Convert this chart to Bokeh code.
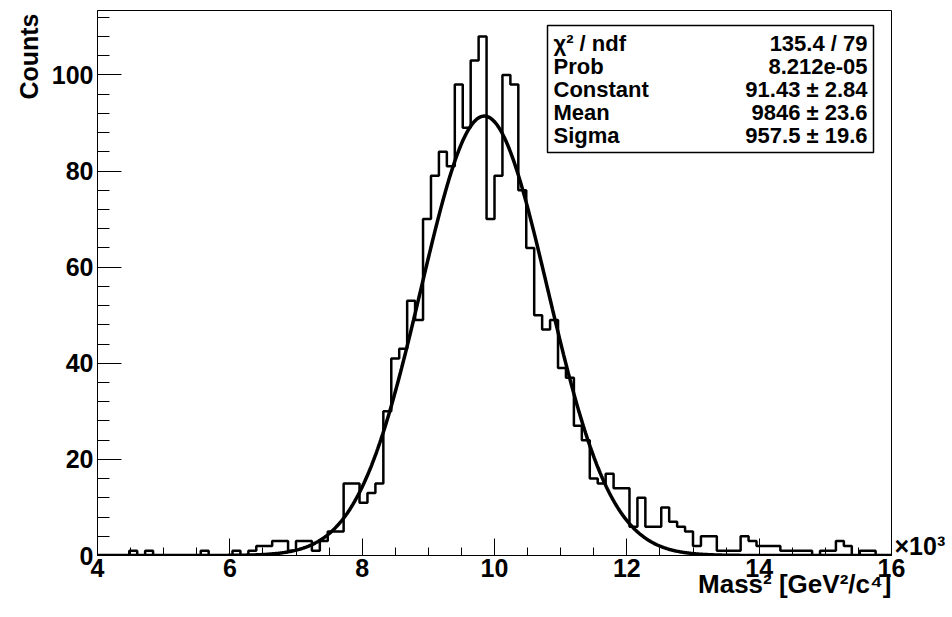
import numpy as np
from bokeh.plotting import figure
from bokeh.models import Range1d, FixedTicker, Label, BoxAnnotation, Title, LinearAxis
from bokeh.embed import file_html
from bokeh.resources import INLINE

# ---------------- data ----------------
x_min = 4.0          # x in units of 10^3 GeV^2/c^4
x_max = 16.0
bin_width = 0.12
counts = [0, 0, 0, 0, 1, 0, 1, 0, 0, 0,
          0, 0, 0, 1, 0, 0, 0, 1, 0, 1,
          2, 2, 3, 3, 1, 3, 3, 1, 3, 5,
          5, 15, 15, 11, 13, 15, 30, 41, 43, 53,
          49, 70, 79, 84, 81, 98, 89, 103, 108, 70,
          79, 100, 98, 76, 64, 50, 47, 49, 39, 37,
          27, 24, 16, 15, 17, 14, 14, 6, 12, 6,
          6, 10, 7, 6, 5, 2, 4, 4, 1, 1,
          1, 4, 3, 2, 2, 2, 1, 1, 1, 1,
          0, 1, 1, 3, 2, 0, 1, 1, 0, 0]
fit_constant = 91.43
fit_mean = 9.846
fit_sigma = 0.9575
stat_names = ["\u03c7\u00b2 / ndf", "Prob", "Constant", "Mean", "Sigma"]
stat_values = ["135.4 / 79", "8.212e-05", "91.43 \u00b1 2.84", "9846 \u00b1 23.6", "957.5 \u00b1 19.6"]
x_ticks = [4, 6, 8, 10, 12, 14, 16]
y_ticks = [0, 20, 40, 60, 80, 100]
y_max = 113.4
x_title = "Mass\u00b2 [GeV\u00b2/c\u2074]"
y_title = "Counts"
x_exponent = "\u00d710\u00b3"

# ---------------- layout ----------------
W, H = 952, 617
BL, BR, BT, BB = 97, 61, 10, 62
FW, FH = W - BL - BR, H - BT - BB
FONT = "Liberation Sans"

def dx(px):
    return x_min + (px - BL) / FW * (x_max - x_min)

def dy(py):
    return y_max * (H - BB - py) / FH

p = figure(width=W, height=H, output_backend="svg", toolbar_location=None,
           x_range=Range1d(x_min, x_max), y_range=Range1d(0, y_max),
           min_border_left=BL, min_border_right=BR, min_border_top=BT, min_border_bottom=BB)
p.background_fill_color = "white"
p.border_fill_color = "white"
p.outline_line_color = "black"
p.outline_line_width = 1
p.xgrid.visible = False
p.ygrid.visible = False

p.xaxis.ticker = FixedTicker(ticks=x_ticks, minor_ticks=list(np.arange(x_min, x_max + 0.01, 0.5)))
p.yaxis.ticker = FixedTicker(ticks=y_ticks, minor_ticks=list(range(0, 113, 4)))
for ax in (p.xaxis[0], p.yaxis[0]):
    ax.major_tick_out = 0
    ax.minor_tick_out = 0
    ax.axis_line_color = "black"
    ax.major_tick_line_color = "black"
    ax.minor_tick_line_color = "black"
    ax.major_label_text_font = FONT
    ax.major_label_text_font_style = "bold"
    ax.major_label_text_font_size = "25px"
    ax.major_label_text_color = "black"
p.xaxis.major_tick_in = 17
p.xaxis.minor_tick_in = 8
p.yaxis.major_tick_in = 24
p.yaxis.minor_tick_in = 12
p.xaxis.major_label_standoff = 3
p.yaxis.major_label_standoff = 4

# exponent "x10^3" at the right end of the x axis, via an extra right axis in pixel units
p.extra_y_ranges = {"px": Range1d(0, FH)}
exp_axis = LinearAxis(y_range_name="px", ticker=FixedTicker(ticks=[10]),
                      major_label_overrides={10: x_exponent},
                      axis_line_color=None, major_tick_line_color=None,
                      minor_tick_line_color=None, major_tick_in=0, major_tick_out=0,
                      minor_tick_in=0, minor_tick_out=0, major_label_standoff=3,
                      major_label_text_font=FONT, major_label_text_font_style="bold",
                      major_label_text_font_size="25px", major_label_text_color="black")
p.add_layout(exp_axis, "right")

# histogram outline
edges = x_min + bin_width * np.arange(len(counts) + 1)
hx = np.repeat(edges, 2)
hy = np.concatenate([[0], np.repeat(counts, 2), [0]])
p.line(hx, hy, line_color="black", line_width=2.5)

# gaussian fit
xf = np.linspace(x_min, x_max, 800)
yf = fit_constant * np.exp(-0.5 * ((xf - fit_mean) / fit_sigma) ** 2)
p.line(xf, yf, line_color="black", line_width=3.5)

# stat box
box = BoxAnnotation(left=dx(547), right=dx(873), top=dy(25), bottom=dy(152),
                    fill_color="white", fill_alpha=1.0, line_color="black",
                    line_width=1.5, line_alpha=1.0)
p.add_layout(box)
for i, (n, v) in enumerate(zip(stat_names, stat_values)):
    py = 43 + 23 * i
    p.add_layout(Label(x=dx(553), y=dy(py), text=n, text_align="left", text_baseline="middle",
                       text_font=FONT, text_font_style="bold", text_font_size="22px",
                       text_color="black"))
    p.add_layout(Label(x=dx(867), y=dy(py), text=v, text_align="right", text_baseline="middle",
                       text_font=FONT, text_font_style="bold", text_font_size="22px",
                       text_color="black"))

# axis titles
p.add_layout(Title(text=y_title, align="right", text_font=FONT, text_font_style="bold",
                   text_font_size="25px", text_color="black", standoff=11, offset=3), "left")
try:
    xt = Title(text=x_title, align="right", text_font=FONT, text_font_style="bold",
               text_font_size="26px", text_color="black", standoff=-25, offset=0)
except Exception:
    xt = Title(text=x_title, align="right", text_font=FONT, text_font_style="bold",
               text_font_size="26px", text_color="black", standoff=0, offset=0)
p.add_layout(xt, "below")

open("out.html", "w").write(file_html(p, INLINE))
